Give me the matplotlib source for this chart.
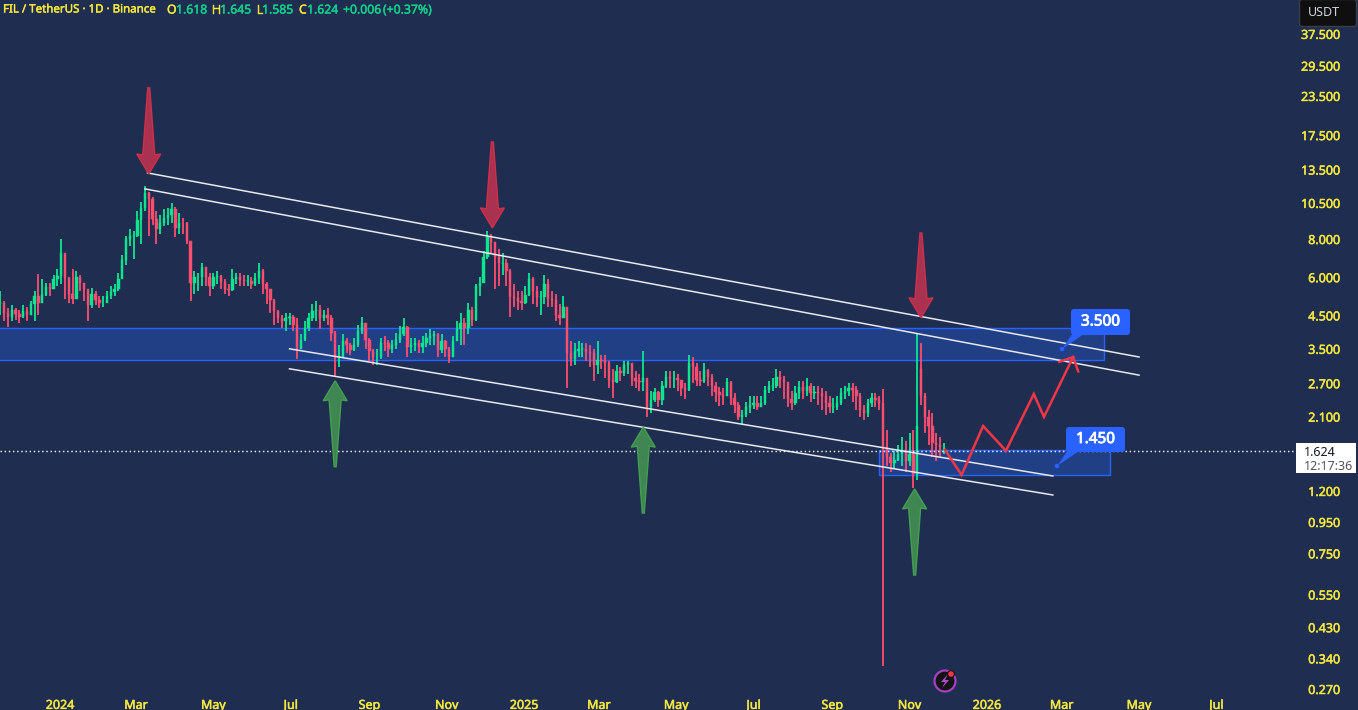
import matplotlib
matplotlib.use("Agg")
import matplotlib.pyplot as plt
import matplotlib.dates as mdates
import matplotlib.patheffects as pe
from matplotlib.patches import FancyBboxPatch, Polygon, Circle, Rectangle
from matplotlib.transforms import Affine2D
import numpy as np
import pandas as pd

plt.rcParams['font.family'] = ['Noto Sans', 'DejaVu Sans']

START = "2023-11-15"
closes = [4.95,4.6,4.46,4.7,4.55,4.46,4.65,4.5,4.9,5.2,
 4.95,5.25,5.58,5.5,5.9,6.05,7.2,5.95,5.3,5.1,
 6.0,5.75,5.5,4.85,5.3,5.05,4.95,4.95,5.2,5.35,
 5.5,5.9,6.84,8.0,8.2,8.2,9.2,10.1,11.3,10.8,
 9.3,8.6,9.0,9.4,9.6,10.0,8.7,9.05,9.0,7.9,
 5.75,6.0,6.0,6.5,6.0,5.6,6.0,6.05,5.8,5.5,
 5.45,5.9,6.0,5.88,5.85,5.85,5.7,5.95,6.3,5.7,
 5.5,5.06,4.65,4.4,4.3,4.4,4.45,4.2,3.5,3.74,
 4.1,4.4,4.65,4.7,4.4,4.5,4.4,3.95,3.3,3.3,
 3.7,3.6,3.47,3.6,4.0,4.25,3.75,3.45,3.3,3.3,
 3.66,3.65,3.5,3.6,3.74,3.9,4.13,3.55,3.6,3.65,
 3.55,3.65,3.8,3.85,3.9,3.47,3.7,3.5,3.3,3.7,
 4.05,4.25,4.1,4.7,4.35,5.6,5.75,7.0,8.1,7.8,
 7.0,6.7,6.7,6.3,5.18,5.15,5.0,4.95,5.25,5.9,
 5.4,5.18,5.18,5.7,5.1,5.06,4.5,4.4,4.8,3.4,
 3.25,3.45,3.5,3.5,3.42,3.4,3.1,3.22,3.2,3.15,
 2.77,2.72,2.95,2.92,3.1,3.15,2.8,2.75,2.72,2.8,
 2.26,2.38,2.52,2.38,2.64,2.84,2.8,2.8,2.77,2.6,
 2.57,3.15,3.06,2.77,2.75,2.99,2.84,2.64,2.52,2.47,
 2.45,2.72,2.42,2.3,2.1,2.13,2.26,2.3,2.33,2.26,
 2.33,2.57,2.64,2.65,2.84,2.77,2.72,2.4,2.33,2.5,
 2.62,2.55,2.65,2.5,2.52,2.5,2.45,2.33,2.25,2.26,
 2.32,2.5,2.55,2.6,2.57,2.45,2.2,2.16,2.33,2.42,
 2.38,2.33,1.67,1.55,1.48,1.52,1.58,1.635,1.5,1.58,
 1.36,1.95,2.45,2.1,1.95,1.72,1.7,1.67,1.624]
highs = [5.4,5.0,4.75,4.85,4.75,4.7,4.85,4.8,5.0,5.4,
 6.15,5.9,5.75,5.75,6.1,6.4,8.0,6.6,6.0,6.4,
 6.3,6.1,5.75,5.5,5.55,5.4,5.2,5.2,5.4,5.6,
 5.7,6.2,7.1,8.2,8.6,8.5,9.9,10.6,11.9,11.4,
 11.0,9.9,9.6,10.0,10.1,10.5,10.2,9.7,9.4,9.1,
 7.9,6.3,6.2,6.7,6.5,6.2,6.2,6.3,6.1,5.9,
 5.7,6.4,6.2,6.2,6.1,6.1,6.0,6.2,6.7,6.4,
 5.8,5.5,5.1,4.7,4.5,4.6,4.6,4.5,4.4,3.9,
 4.3,4.6,4.9,5.0,4.85,4.7,4.75,4.5,4.0,3.6,
 3.9,3.8,3.65,3.8,4.2,4.45,4.2,3.8,3.5,3.5,
 3.8,3.85,3.75,3.75,3.95,4.15,4.4,4.15,3.8,3.8,
 3.75,3.85,3.95,4.05,4.0,3.95,3.9,3.75,3.55,3.85,
 4.3,4.6,4.4,4.95,4.8,5.7,6.0,7.3,8.5,8.3,
 7.8,7.4,7.2,6.9,6.4,5.7,5.4,5.4,5.6,6.2,
 6.0,5.6,5.4,6.1,5.9,5.4,5.3,4.9,5.2,4.4,
 3.7,3.65,3.7,3.65,3.65,3.6,3.5,3.7,3.35,3.35,
 3.2,3.0,3.1,3.05,3.2,3.2,3.05,2.95,2.9,3.45,
 2.75,2.55,2.6,2.55,2.75,2.95,2.95,2.95,2.9,2.75,
 2.7,3.35,3.3,3.15,2.95,3.15,3.0,2.9,2.72,2.62,
 2.6,2.8,2.75,2.5,2.35,2.2,2.35,2.45,2.45,2.45,
 2.45,2.65,2.75,2.8,3.0,2.95,2.85,2.72,2.55,2.65,
 2.75,2.75,2.8,2.7,2.65,2.65,2.6,2.55,2.45,2.42,
 2.45,2.6,2.65,2.7,2.7,2.65,2.5,2.3,2.4,2.5,
 2.5,2.45,2.58,1.9,1.6,1.62,1.7,1.8,1.75,1.85,
 1.9,3.95,3.66,2.5,2.2,2.15,1.85,1.8,1.72]
lows = [4.5,4.3,4.13,4.3,4.35,4.25,4.4,4.3,4.5,4.3,
 4.5,4.95,5.2,5.2,5.5,5.6,5.7,5.1,4.95,4.9,
 5.4,5.4,5.0,4.3,4.75,4.85,4.75,4.8,4.95,5.1,
 5.2,5.4,5.9,6.6,7.6,6.9,8.1,7.7,9.9,8.2,
 8.9,7.7,8.3,8.8,8.9,9.0,8.1,8.3,8.3,7.7,
 5.0,5.3,5.4,5.6,5.6,5.2,5.5,5.7,5.5,5.3,
 5.2,5.4,5.7,5.6,5.6,5.6,5.5,5.6,5.7,5.3,
 4.9,4.6,4.2,4.25,4.1,4.0,4.2,4.0,3.25,3.5,
 3.7,4.0,4.3,4.3,4.05,4.3,4.2,3.7,2.86,3.05,
 3.3,3.4,3.35,3.45,3.55,3.9,3.5,3.2,3.1,3.1,
 3.25,3.45,3.3,3.4,3.5,3.65,3.85,3.3,3.4,3.45,
 3.4,3.4,3.55,3.6,3.6,3.3,3.4,3.3,3.15,3.3,
 3.7,3.6,3.6,3.9,4.15,4.3,5.2,5.8,6.9,7.2,
 5.5,5.6,6.1,5.6,4.45,4.8,4.7,4.7,4.9,5.2,
 4.9,4.8,4.5,4.9,4.8,4.8,4.3,4.2,4.4,2.6,
 3.08,3.1,3.3,3.3,3.2,3.05,2.75,2.9,3.0,2.8,
 2.6,2.42,2.7,2.75,2.85,2.9,2.65,2.6,2.55,2.55,
 2.1,2.15,2.35,2.25,2.3,2.6,2.6,2.6,2.55,2.45,
 2.4,2.55,2.7,2.65,2.65,2.7,2.65,2.45,2.35,2.28,
 2.3,2.45,2.3,2.15,2.05,1.97,2.1,2.15,2.22,2.2,
 2.25,2.3,2.5,2.55,2.6,2.6,2.4,2.25,2.2,2.3,
 2.4,2.4,2.45,2.35,2.4,2.3,2.2,2.12,2.15,2.15,
 2.2,2.3,2.4,2.45,2.35,2.2,2.1,2.05,2.1,2.25,
 2.25,2.2,0.32,1.45,1.38,1.42,1.5,1.45,1.38,1.45,
 1.23,1.3,2.3,1.85,1.7,1.55,1.5,1.55,1.585]
gap_opens = {242: 3.0, 248: 1.618}

price_ticks = [37.5,29.5,23.5,17.5,13.5,10.5,8,6,4.5,3.5,2.7,2.1,1.2,0.95,0.75,0.55,0.43,0.34,0.27]
date_ticks = ["2024-01-01","2024-03-01","2024-05-01","2024-07-01","2024-09-01","2024-11-01","2025-01-01",
              "2025-03-01","2025-05-01","2025-07-01","2025-09-01","2025-11-01","2026-01-01","2026-03-01",
              "2026-05-01","2026-07-01"]
date_labels = ["2024","Mar","May","Jul","Sep","Nov","2025","Mar","May","Jul","Sep","Nov","2026","Mar","May","Jul"]

channels = [(("2024-03-10",13.16),("2026-05-01",3.29)),
            (("2024-03-08",11.67),("2026-05-01",2.87)),
            (("2024-06-30",3.50),("2026-02-22",1.343)),
            (("2024-06-30",3.01),("2026-02-22",1.164))]
zones = [("2023-11-01","2026-04-03",3.22,4.10),
         ("2025-10-08","2026-04-08",1.353,1.635)]
path_dates = ["2025-11-29","2025-12-12","2025-12-29","2026-01-16","2026-02-07","2026-02-15","2026-03-10"]
path_prices = [1.635,1.353,1.957,1.624,2.49,2.095,3.29]
head_dates = ["2026-02-27","2026-03-10","2026-03-14"]
head_prices = [3.17,3.29,2.95]
red_arrows = [("2024-03-11",13.06,24.97),("2024-12-07",8.70,16.62),("2025-11-10",4.42,8.37)]
green_arrows = [("2024-08-05",2.75,1.44),("2025-04-05",1.94,1.016),("2025-11-05",1.218,0.637)]
last_price = 1.624

BG = "#1f2e50"; UP = "#0be68f"; DOWN = "#ff4d6d"; YEL = "#f7e83c"; BLUE = "#2962ff"
W, H = 1358, 710
THICK = [pe.withStroke(linewidth=0.35, foreground=YEL)]
fig = plt.figure(figsize=(W/100, H/100), dpi=100, facecolor=BG)
ax = fig.add_axes([0, 0, 1, 1], facecolor=BG)
ax.set_yscale("log")
d = lambda s: mdates.date2num(pd.Timestamp(s))
D0 = d("2024-01-01")
ax.set_xlim(D0 - 60/1.268, D0 + (W-60)/1.268)
ax.set_ylim(0.2305, 48.4)
for s in ax.spines.values():
    s.set_visible(False)
ax.minorticks_off()

ax.set_xticks([d(t) for t in date_ticks])
ax.set_xticklabels(date_labels, color=YEL, fontsize=9)
for lab, txt in zip(ax.get_xticklabels(), date_labels):
    lab.set_path_effects(THICK)
    if txt.isdigit():
        lab.set_fontweight("bold")
ax.tick_params(axis="x", length=0, pad=-8, direction="in")
ax.xaxis.set_tick_params(which="minor", length=0)
ax.yaxis.tick_right()
ax.set_yticks(price_ticks)
ax.set_yticklabels([f"{p:.3f}" for p in price_ticks], color=YEL, fontsize=9)
ax.tick_params(axis="y", which="major", length=0, pad=-13)
ax.tick_params(axis="y", which="minor", length=0, labelright=False, labelleft=False)
for lab in ax.get_yticklabels():
    lab.set_ha("right")
    lab.set_path_effects(THICK)

# zones
for a, b, lo, hi in zones:
    ax.add_patch(Rectangle((d(a), lo), d(b)-d(a), hi-lo, facecolor="#213f85", edgecolor=BLUE, lw=1, zorder=1))

# candles
xs = mdates.date2num(pd.date_range(START, periods=len(closes), freq="3D"))
opens = [closes[0]] + closes[:-1]
for k, v in gap_opens.items():
    opens[k] = v
opens = np.array(opens); cl = np.array(closes)
colors = [UP if c >= o else DOWN for o, c in zip(opens, cl)]
ax.vlines(xs, lows, highs, colors=colors, lw=1.3, zorder=3)
ax.bar(xs, np.abs(cl-opens), bottom=np.minimum(opens, cl), width=1.9, color=colors,
       edgecolor=colors, lw=0.3, zorder=3)

# channels
for (p, q) in channels:
    ax.plot([d(p[0]), d(q[0])], [p[1], q[1]], color="#e6e8ee", lw=1.1, zorder=4)

# last price
ax.axhline(last_price, color="white", lw=1, ls=(0, (1, 2)), zorder=4, xmax=1296/W)

# projected path
ax.plot([d(t) for t in path_dates], path_prices, color="#f23645", lw=1.8, zorder=5, solid_joinstyle="miter")
ax.plot([d(t) for t in head_dates], head_prices, color="#f23645", lw=1.8, zorder=5, solid_joinstyle="miter")

# big arrows
pix = Affine2D().scale(1, -1).translate(0, H)
def arrow(date, tip, tail, col, edge):
    tx, ty = ax.transData.transform((d(date), tip))
    _, by = ax.transData.transform((d(date), tail))
    s = 1 if by > ty else -1
    pts = [(tx, ty), (tx+12, ty+20*s), (tx+6, ty+19*s), (tx+1, by), (tx-1, by), (tx-6, ty+19*s), (tx-12, ty+20*s)]
    fig.add_artist(Polygon(pts, closed=True, facecolor=col, edgecolor=edge, lw=1, transform=None, zorder=6))
for a in red_arrows:
    arrow(a[0], a[1], a[2], "#ab3151", "#cf3048")
for a in green_arrows:
    arrow(a[0], a[1], a[2], "#3f8652", "#43a04f")

# callouts
def callout(x0, y0, x1, y1, dot, txt):
    fig.add_artist(Polygon([(x0+2, y1-2), (x0+13, y1-1), dot], closed=True, facecolor=BLUE, edgecolor="none",
                           transform=pix, zorder=7))
    fig.add_artist(FancyBboxPatch((x0+3, y0+3), x1-x0-6, y1-y0-6, boxstyle="round,pad=3", facecolor=BLUE,
                                  edgecolor="none", transform=pix, zorder=7))
    fig.add_artist(Circle(dot, 2.6, facecolor=BLUE, edgecolor="#1a3fa8", lw=0.5, transform=pix, zorder=7))
    t = fig.text((x0+x1)/2/W, 1-(y0+y1)/2/H, txt, color="white", fontsize=11, fontweight="bold", ha="center",
                 va="center", zorder=8)
    t.set_path_effects([pe.withStroke(linewidth=0.6, foreground="white")])
callout(1071, 309, 1130, 335, (1062, 349), "3.500")
callout(1066, 427, 1125, 452, (1057, 466), "1.450")

# header
def head(x, s, c, size=8.8):
    t = fig.text(x/W, 1-10/H, s, color=c, fontsize=size, va="center", ha="left")
    t.set_path_effects([pe.withStroke(linewidth=0.3, foreground=c)])
HG = "#0fd18a"
head(3, "FIL / TetherUS · 1D · Binance", YEL, 8.3)
for x, s, c in [(167, "O", YEL), (176, "1.618", HG), (212, "H", YEL),
                (220, "1.645", HG), (257, "L", YEL), (262, "1.585", HG), (299, "C", YEL), (307, "1.624", HG),
                (343, "+0.006", HG), (383, "(+0.37%)", HG)]:
    head(x, s, c)

# currency button
fig.add_artist(FancyBboxPatch((1302, 2), 52, 22, boxstyle="round,pad=2.5", facecolor="#0f0f0f", edgecolor="#3a3e48",
                              lw=1, transform=pix, zorder=7))
fig.text(1308/W, 1-13/H, "USDT", color="#d1d4dc", fontsize=9, va="center", zorder=8)

# last price label
fig.add_artist(Rectangle((1296, 443), 60, 30, facecolor="white", edgecolor="none", transform=pix, zorder=7))
fig.text(1304/W, 1-452/H, "1.624", color="#131722", fontsize=9, va="center", zorder=8)
fig.text(1304/W, 1-466/H, "12:17:36", color="#50535e", fontsize=9, va="center", zorder=8)

# bolt badge
fig.add_artist(Circle((945, 681), 10.5, facecolor="#131313", edgecolor="#a63fc4", lw=1.6, transform=pix, zorder=7))
fig.add_artist(Polygon([(948, 674), (941, 682), (945, 682), (942, 688), (949, 680), (945, 680)], closed=True,
                       facecolor="#b44ad6", edgecolor="none", transform=pix, zorder=8))
fig.add_artist(Circle((951, 674), 4, facecolor="#131313", edgecolor="none", transform=pix, zorder=8))
fig.add_artist(Circle((951, 674), 2.8, facecolor="#f23645", edgecolor="none", transform=pix, zorder=9))

fig.savefig("out.png", dpi=100, facecolor=BG)
